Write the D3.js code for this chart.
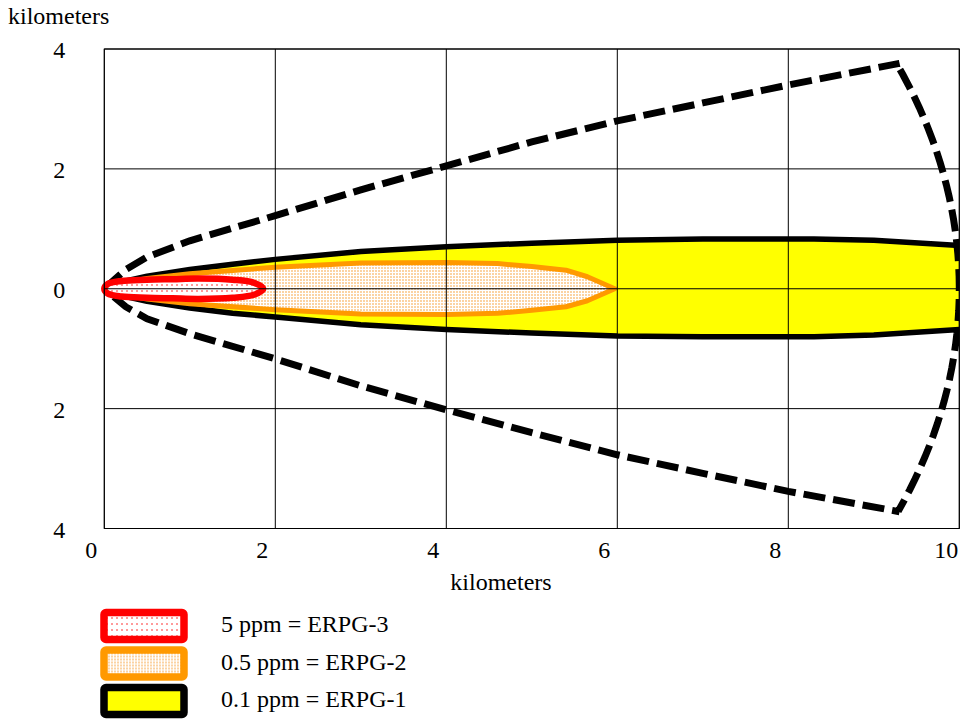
<!DOCTYPE html>
<meta charset="utf-8">
<style>
body { margin: 0; background: #fff; }
text { font-family: "Liberation Serif", "Times New Roman", serif; font-size: 24px; fill: #000; }
</style>
<svg id="chart" width="960" height="719"></svg>
<script src="https://d3js.org/d3.v7.min.js"></script>
<script>

// ticks
var xTicks = [0, 2, 4, 6, 8, 10];
var yTicks = [4, 2, 0, -2, -4];
var yTickLabels = ["4", "2", "0", "2", "4"];

// threat zones, [downwind km, crosswind km]
var erpg1Upper = [[0,0],[0.1,0.06],[0.25,0.13],[0.5,0.21],[1,0.32],[1.5,0.41],[2,0.49],[3,0.62],[4,0.7],[5,0.76],[6,0.81],[7,0.83],[8.3,0.83],[9,0.81],[10,0.72],[10.3,0.7]];
var erpg1Lower = [[0,0],[0.1,-0.06],[0.25,-0.13],[0.5,-0.21],[1,-0.32],[1.5,-0.41],[2,-0.47],[3,-0.6],[4,-0.68],[5,-0.74],[6,-0.79],[7,-0.8],[8.3,-0.8],[9,-0.77],[10,-0.68],[10.3,-0.66]];
var erpg2Upper = [[0,0],[0.1,0.05],[0.25,0.11],[0.5,0.17],[1,0.25],[2,0.36],[3,0.43],[4,0.44],[4.6,0.42],[5,0.37],[5.4,0.31],[5.65,0.2],[5.97,0]];
var erpg2Lower = [[0,0],[0.1,-0.05],[0.25,-0.11],[0.5,-0.17],[1,-0.25],[2,-0.35],[3,-0.42],[4,-0.43],[4.6,-0.41],[5,-0.36],[5.4,-0.3],[5.65,-0.2],[5.97,0]];
var erpg3Upper = [[0,0],[0.04,0.08],[0.2,0.13],[0.5,0.15],[0.8,0.16],[1.1,0.17],[1.5,0.15],[1.75,0.1],[1.86,0]];
var erpg3Lower = [[0.04,-0.08],[0.2,-0.13],[0.5,-0.15],[0.8,-0.16],[1.1,-0.17],[1.5,-0.15],[1.75,-0.1]];

// wind direction confidence lines
var confUpper = [[0,0],[0.25,0.32],[0.5,0.53],[1,0.8],[2,1.22],[3,1.65],[4,2.05],[5,2.45],[6,2.8],[7,3.1],[8,3.4],[9.3,3.76]];
var confLower = [[0,0],[0.25,-0.3],[0.5,-0.5],[1,-0.75],[2,-1.17],[3,-1.62],[4,-2.02],[5,-2.4],[6,-2.77],[7,-3.08],[8,-3.38],[9.3,-3.72]];
var confRadius = 10;

var legendLabels = ["5 ppm = ERPG-3", "0.5 ppm = ERPG-2", "0.1 ppm = ERPG-1"];

var svg = d3.select("#chart");

var x = d3.scaleLinear().domain([0, 10]).range([104.3, 959.3]);
var y = d3.scaleLinear().domain([-4, 4]).range([528.5, 49]);

var defs = svg.append("defs");
defs.append("clipPath").attr("id", "plotclip")
  .append("rect")
    .attr("x", x(0)).attr("y", y(4))
    .attr("width", x(10) - x(0)).attr("height", y(-4) - y(4));

// dotted fills
var p2 = defs.append("pattern").attr("id", "dotOrange")
    .attr("patternUnits", "userSpaceOnUse").attr("width", 3).attr("height", 3);
p2.append("rect").attr("width", 3).attr("height", 3).attr("fill", "#fff");
p2.append("rect").attr("width", 2).attr("height", 2).attr("fill", "#fbd3a3");

var p3 = defs.append("pattern").attr("id", "dotRed")
    .attr("patternUnits", "userSpaceOnUse").attr("width", 5).attr("height", 6);
p3.append("rect").attr("width", 5).attr("height", 6).attr("fill", "#fff");
p3.append("rect").attr("x", 1).attr("y", 2).attr("width", 2).attr("height", 2).attr("fill", "#ff9a9a");

var line = d3.line().x(function(d) { return x(d[0]); }).y(function(d) { return y(d[1]); });
var smooth = d3.line().curve(d3.curveCatmullRomClosed).x(function(d) { return x(d[0]); }).y(function(d) { return y(d[1]); });

function zone(upper, lower) {
  return line(upper.concat(lower.slice().reverse())) + "Z";
}

var plot = svg.append("g").attr("clip-path", "url(#plotclip)");

plot.append("path")
    .attr("d", zone(erpg1Upper, erpg1Lower))
    .attr("fill", "#ffff00")
    .attr("stroke", "#000")
    .attr("stroke-width", 5.5)
    .attr("stroke-linejoin", "round");

plot.append("path")
    .attr("d", zone(erpg2Upper, erpg2Lower))
    .attr("fill", "url(#dotOrange)")
    .attr("stroke", "#ff9900")
    .attr("stroke-width", 5)
    .attr("stroke-linejoin", "round");

svg.append("path")
    .attr("d", smooth(erpg3Upper.concat(erpg3Lower.slice().reverse())))
    .attr("fill", "url(#dotRed)")
    .attr("stroke", "#ff0000")
    .attr("stroke-width", 6.5)
    .attr("stroke-linejoin", "round");

// grid
svg.append("g").selectAll("line.v")
  .data(xTicks).enter().append("line")
    .attr("x1", function(d) { return x(d); }).attr("x2", function(d) { return x(d); })
    .attr("y1", y(4)).attr("y2", y(-4))
    .attr("stroke", "#000").attr("stroke-width", 1);

svg.append("g").selectAll("line.h")
  .data(yTicks).enter().append("line")
    .attr("x1", x(0)).attr("x2", x(10))
    .attr("y1", function(d) { return y(d); }).attr("y2", function(d) { return y(d); })
    .attr("stroke", "#000").attr("stroke-width", 1);

// confidence envelope: upper line, arc at the downwind range, lower line back
var a0 = Math.atan2(confUpper[confUpper.length - 1][1], confUpper[confUpper.length - 1][0]);
var a1 = Math.atan2(confLower[confLower.length - 1][1], confLower[confLower.length - 1][0]);
var arc = d3.range(0, 41).map(function(i) {
  var a = a0 + (a1 - a0) * i / 40;
  return [confRadius * Math.cos(a), confRadius * Math.sin(a)];
});
var envelope = confUpper.concat(arc, confLower.slice().reverse());

plot.append("path")
    .attr("d", line(envelope))
    .attr("fill", "none")
    .attr("stroke", "#000")
    .attr("stroke-width", 7)
    .attr("stroke-dasharray", "22,8");

// tick labels
svg.append("g").selectAll("text")
  .data(xTicks).enter().append("text")
    .attr("x", function(d) { return x(d) - 13; })
    .attr("y", y(-4) + 29)
    .attr("text-anchor", "middle")
    .text(function(d) { return d; });

svg.append("g").selectAll("text")
  .data(yTicks).enter().append("text")
    .attr("x", x(0) - 45)
    .attr("y", function(d) { return y(d) + 9; })
    .attr("text-anchor", "middle")
    .text(function(d, i) { return yTickLabels[i]; });

// plot border
svg.append("rect")
    .attr("x", x(0)).attr("y", y(4))
    .attr("width", x(10) - x(0)).attr("height", y(-4) - y(4))
    .attr("fill", "none").attr("stroke", "#000").attr("stroke-width", 1);

svg.append("text").attr("x", 8).attr("y", 24).text("kilometers");
svg.append("text").attr("x", 501).attr("y", 590).attr("text-anchor", "middle").text("kilometers");

// legend
var legendFill = ["url(#dotRed)", "url(#dotOrange)", "#ffff00"];
var legendStroke = ["#ff0000", "#ff9900", "#000"];
var legend = svg.append("g").selectAll("g")
  .data(legendLabels).enter().append("g")
    .attr("transform", function(d, i) { return "translate(0," + (609 + i * 37.5) + ")"; });

legend.append("rect")
    .attr("x", 104).attr("y", 3.5)
    .attr("width", 80).attr("height", 27)
    .attr("rx", 2)
    .attr("fill", function(d, i) { return legendFill[i]; })
    .attr("stroke", function(d, i) { return legendStroke[i]; })
    .attr("stroke-width", 7.5);

legend.append("text")
    .attr("x", 221).attr("y", 23)
    .text(function(d) { return d; });

</script>
